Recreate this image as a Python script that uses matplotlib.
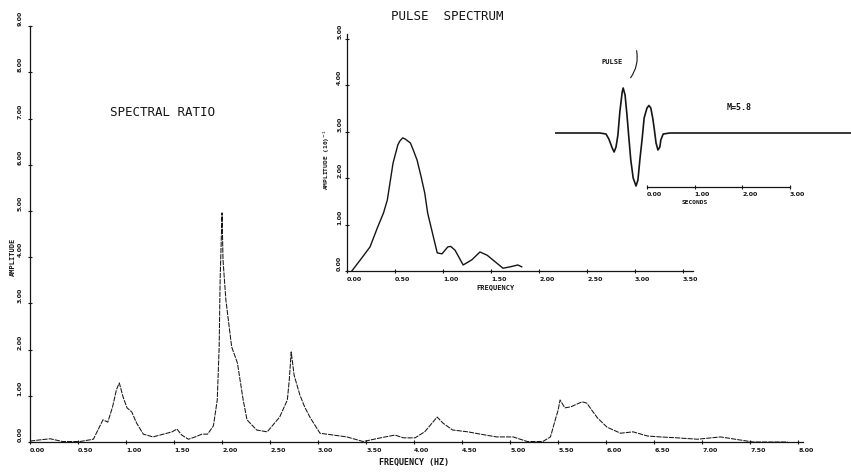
import matplotlib.pyplot as plt

# spectral ratio (main panel)
ratio_freq = [0.00, 0.08, 0.21, 0.34, 0.52, 0.66, 0.76, 0.81, 0.86, 0.90,
              0.93, 0.97, 1.01, 1.06, 1.11, 1.18, 1.28, 1.39, 1.48, 1.53,
              1.58, 1.65, 1.72, 1.79, 1.85, 1.91, 1.95, 1.97, 1.98, 2.00,
              2.01, 2.04, 2.10, 2.16, 2.22, 2.26, 2.36, 2.47, 2.60, 2.68,
              2.70, 2.72, 2.75, 2.81, 2.86, 2.92, 3.02, 3.16, 3.30, 3.47,
              3.65, 3.80, 3.89, 4.01, 4.11, 4.24, 4.30, 4.40, 4.56, 4.69,
              4.86, 5.03, 5.18, 5.34, 5.42, 5.47, 5.50, 5.52, 5.57, 5.63,
              5.75, 5.80, 5.85, 5.91, 6.01, 6.15, 6.28, 6.43, 6.56, 6.74,
              6.95, 7.19, 7.53, 7.89]
ratio_amp = [0.02, 0.04, 0.07, 0.01, 0.01, 0.06, 0.48, 0.43, 0.76, 1.13,
             1.28, 0.97, 0.74, 0.65, 0.41, 0.17, 0.11, 0.17, 0.22, 0.28,
             0.15, 0.06, 0.11, 0.17, 0.17, 0.35, 0.91, 2.06, 3.51, 4.96,
             3.94, 3.07, 2.06, 1.71, 0.91, 0.48, 0.26, 0.22, 0.54, 0.91,
             1.34, 1.95, 1.45, 1.02, 0.76, 0.52, 0.19, 0.15, 0.11, 0.01,
             0.09, 0.15, 0.09, 0.09, 0.22, 0.54, 0.41, 0.26, 0.22, 0.17,
             0.11, 0.11, 0.01, 0.01, 0.11, 0.48, 0.69, 0.91, 0.74, 0.76,
             0.87, 0.84, 0.69, 0.52, 0.32, 0.19, 0.22, 0.13, 0.11, 0.09,
             0.06, 0.11, 0.00, 0.00]
main_xticks = [i * 0.5 for i in range(17)]
main_xlabels = ["%.2f" % v for v in main_xticks]
main_yticks = list(range(10))
main_ylabels = ["%.2f" % v for v in main_yticks]

# pulse spectrum (inset)
spec_freq = [0.05, 0.15, 0.24, 0.32, 0.38, 0.42, 0.48, 0.53, 0.55, 0.58,
             0.61, 0.66, 0.69, 0.73, 0.77, 0.81, 0.84, 0.89, 0.94, 0.99,
             1.05, 1.08, 1.125, 1.21, 1.30, 1.385, 1.46, 1.56, 1.625, 1.70,
             1.78, 1.82]
spec_amp = [0.00, 0.27, 0.52, 0.95, 1.25, 1.53, 2.33, 2.72, 2.80, 2.87,
            2.84, 2.76, 2.61, 2.39, 2.05, 1.68, 1.25, 0.82, 0.39, 0.37,
            0.52, 0.53, 0.45, 0.13, 0.24, 0.41, 0.34, 0.17, 0.06, 0.09,
            0.13, 0.09]
spec_xticks = [i * 0.5 for i in range(8)]
spec_xlabels = ["%.2f" % v for v in spec_xticks]
spec_yticks = list(range(6))
spec_ylabels = ["%.2f" % v for v in spec_yticks]

# pulse waveform (seconds, relative amplitude)
pulse_t = [-1.93, -0.99, -0.86, -0.80, -0.73, -0.69, -0.65, -0.61, -0.57, -0.52,
           -0.50, -0.46, -0.42, -0.38, -0.34, -0.29, -0.23, -0.19, -0.15, -0.10,
           -0.06, 0.00, 0.04, 0.08, 0.12, 0.15, 0.19, 0.23, 0.27, 0.29,
           0.34, 0.48, 4.28]
pulse_a = [0.00, 0.00, -0.02, -0.12, -0.30, -0.38, -0.28, -0.04, 0.42, 0.82,
           0.90, 0.76, 0.36, -0.10, -0.54, -0.90, -1.06, -0.94, -0.54, -0.10,
           0.30, 0.50, 0.55, 0.50, 0.30, 0.10, -0.20, -0.34, -0.28, -0.14,
           -0.02, 0.00, 0.00]
time_ticks = [0, 1, 2, 3]
time_labels = ["0.00", "1.00", "2.00", "3.00"]

W, H = 851, 472
ink = "#151515"
tick_font = dict(fontsize=4.5, fontweight="bold", color=ink)
mono = "DejaVu Sans Mono"

fig = plt.figure(figsize=(W / 100, H / 100), dpi=100)
fig.patch.set_facecolor("white")


def frame(ax):
    for s in ["top", "right"]:
        ax.spines[s].set_visible(False)
    for s in ["left", "bottom"]:
        ax.spines[s].set_color(ink)
        ax.spines[s].set_linewidth(0.9)
    ax.tick_params(direction="inout", length=3, width=0.8, colors=ink)
    ax.set_facecolor("none")


### main panel ###
ax = fig.add_axes([30 / W, 1 - 442 / H, 773 / W, 415.8 / H])
frame(ax)
ax.plot(ratio_freq, ratio_amp, color=ink, lw=0.75, ls=(0, (5, 1)))
ax.set_xlim(0, 8.05)
ax.set_ylim(0, 9)
ax.set_xticks(main_xticks)
ax.set_xticklabels(main_xlabels, ha="left", **tick_font)
ax.set_yticks(main_yticks)
ax.set_yticklabels(main_ylabels, rotation=90, va="bottom", **tick_font)
ax.tick_params(axis="x", pad=3)
ax.tick_params(axis="y", pad=4)
ax.text(4.0, -0.45, "FREQUENCY (HZ)", ha="center", va="center",
        fontsize=6, fontweight="bold", family=mono, color=ink, clip_on=False)
ax.text(-0.18, 4.0, "AMPLITUDE", rotation=90, ha="center", va="center",
        fontsize=5, fontweight="bold", family=mono, color=ink, clip_on=False)
fig.text(163 / W, 1 - 113 / H, "SPECTRAL RATIO", ha="center", va="center",
         fontsize=9, family=mono, color=ink)

### inset: pulse spectrum ###
ax2 = fig.add_axes([347 / W, 1 - 271 / H, 345.6 / W, 236.6 / H])
frame(ax2)
ax2.plot(spec_freq, spec_amp, color=ink, lw=1.0)
ax2.set_xlim(0, 3.6)
ax2.set_ylim(0, 5.1)
ax2.set_xticks(spec_xticks)
ax2.set_xticklabels(spec_xlabels, ha="left", **tick_font)
ax2.set_yticks(spec_yticks)
ax2.set_yticklabels(spec_ylabels, rotation=90, va="bottom", **tick_font)
ax2.tick_params(axis="x", pad=3)
ax2.tick_params(axis="y", pad=2)
ax2.text(1.55, -0.34, "FREQUENCY", ha="center", va="center",
         fontsize=5, fontweight="bold", family=mono, color=ink, clip_on=False)
ax2.text(-0.21, 2.4, "AMPLITUDE (10)$^{-1}$", rotation=90, ha="center",
         va="center", fontsize=4.5, fontweight="bold", family=mono,
         color=ink, clip_on=False)
fig.text(447 / W, 1 - 16 / H, "PULSE  SPECTRUM", ha="center", va="center",
         fontsize=9, family=mono, color=ink)

### inset: pulse waveform ###
ax3 = fig.add_axes([555 / W, 1 - 213 / H, 296 / W, 150 / H])
ax3.set_facecolor("none")
for s in ["top", "right", "left"]:
    ax3.spines[s].set_visible(False)
ax3.spines["bottom"].set_position(("data", -1.08))
ax3.spines["bottom"].set_bounds(0, 3)
ax3.spines["bottom"].set_linewidth(0.9)
ax3.spines["bottom"].set_color(ink)
ax3.plot(pulse_t, pulse_a, color=ink, lw=1.2)
ax3.set_xlim(-1.93, 4.28)
ax3.set_ylim(-1.6, 1.4)
ax3.set_yticks([])
ax3.set_xticks(time_ticks)
ax3.set_xticklabels(time_labels, ha="left", **tick_font)
ax3.tick_params(axis="x", direction="inout", length=3, width=0.8,
                colors=ink, pad=2)
ax3.text(1.0, -1.38, "SECONDS", ha="center", va="center", fontsize=4.5,
         fontweight="bold", family=mono, color=ink)
ax3.text(1.93, 0.5, "M=5.8", ha="center", va="center", fontsize=6,
         fontweight="bold", family=mono, color=ink)
ax3.text(-0.73, 1.42, "PULSE", ha="center", va="center", fontsize=5,
         fontweight="bold", family=mono, color=ink, clip_on=False)
ax3.annotate("", xy=(-0.38, 1.06), xytext=(-0.23, 1.70),
             arrowprops=dict(arrowstyle="-", lw=0.8, color=ink,
                             connectionstyle="arc3,rad=-0.25"),
             annotation_clip=False)

fig.savefig("out.png", dpi=100)
